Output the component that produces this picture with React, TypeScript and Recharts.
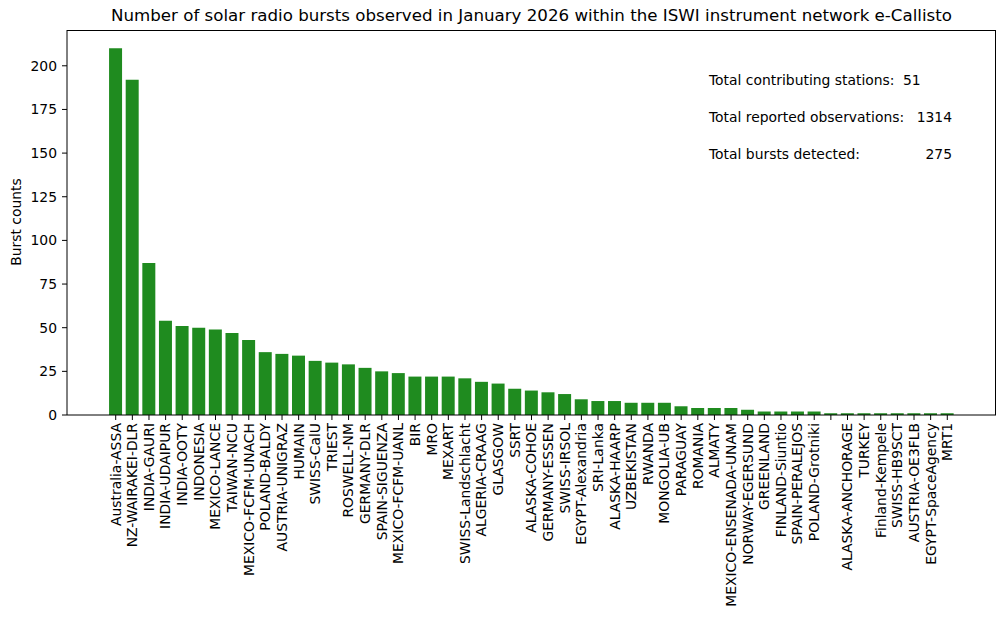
import React from "react"
import { BarChart, Bar, XAxis, YAxis } from "recharts"

// stations sorted by burst count (January 2026)
const stations = [
  "Australia-ASSA", "NZ-WAIRAKEI-DLR", "INDIA-GAURI", "INDIA-UDAIPUR", "INDIA-OOTY", "INDONESIA",
  "MEXICO-LANCE", "TAIWAN-NCU", "MEXICO-FCFM-UNACH", "POLAND-BALDY", "AUSTRIA-UNIGRAZ", "HUMAIN",
  "SWISS-CalU", "TRIEST", "ROSWELL-NM", "GERMANY-DLR", "SPAIN-SIGUENZA", "MEXICO-FCFM-UANL",
  "BIR", "MRO", "MEXART", "SWISS-Landschlacht", "ALGERIA-CRAAG", "GLASGOW", "SSRT",
  "ALASKA-COHOE", "GERMANY-ESSEN", "SWISS-IRSOL", "EGYPT-Alexandria", "SRI-Lanka", "ALASKA-HAARP",
  "UZBEKISTAN", "RWANDA", "MONGOLIA-UB", "PARAGUAY", "ROMANIA", "ALMATY", "MEXICO-ENSENADA-UNAM",
  "NORWAY-EGERSUND", "GREENLAND", "FINLAND-Siuntio", "SPAIN-PERALEJOS", "POLAND-Grotniki", "",
  "ALASKA-ANCHORAGE", "TURKEY", "Finland-Kempele", "SWISS-HB9SCT", "AUSTRIA-OE3FLB",
  "EGYPT-SpaceAgency", "MRT1",
]

const bursts = [
  210, 192, 87, 54, 51, 50,
  49, 47, 43, 36, 35, 34,
  31, 30, 29, 27, 25, 24,
  22, 22, 22, 21, 19, 18, 15,
  14, 13, 12, 9, 8, 8,
  7, 7, 7, 5, 4, 4, 4,
  3, 2, 2, 2, 2, 1,
  1, 1, 1, 1, 1,
  1, 1,
]

const yTicks = [0, 25, 50, 75, 100, 125, 150, 175, 200]

const totalStations = 51
const totalObservations = 1314
const totalDetected = 275

const FONT = "'DejaVu Sans', sans-serif"
const FS = 13.9

function StationTick(props: any) {
  const { x, y, payload } = props
  return (
    <g transform={`translate(${x},${y})`}>
      <text transform="rotate(-90)" textAnchor="end" dy="0.35em" fontSize={FS} fill="#000" fontFamily={FONT}>
        {payload.value}
      </text>
    </g>
  )
}

export default function App() {
  const data = stations.map((name, i) => ({ name, count: bursts[i] }))

  const textStyle: React.CSSProperties = { position: "absolute", fontSize: FS, lineHeight: "14px", whiteSpace: "pre" }

  return (
    <div style={{ position: "absolute", left: 0, top: 0, width: 1005, height: 618, background: "#fff", fontFamily: FONT, color: "#000" }}>
      <BarChart width={1005} height={618} data={data} margin={{ top: 30, right: 9, bottom: 0, left: 0 }} barCategoryGap="10%">
        <XAxis
          dataKey="name"
          interval={0}
          height={203}
          padding={{ left: 40.4, right: 40.4 }}
          tickSize={5}
          tickMargin={3}
          axisLine={{ stroke: "#000" }}
          tickLine={{ stroke: "#000" }}
          tick={<StationTick />}
        />
        <YAxis
          width={67}
          domain={[0, 220.5]}
          ticks={yTicks}
          tickSize={5}
          tickMargin={5}
          axisLine={{ stroke: "#000" }}
          tickLine={{ stroke: "#000" }}
          tick={{ fill: "#000", fontSize: FS, fontFamily: FONT }}
        />
        <Bar dataKey="count" fill="#1f8b1f" isAnimationActive={false} />
      </BarChart>

      {/* axes frame */}
      <div style={{ position: "absolute", left: 67, top: 30, width: 929, height: 385, borderTop: "1px solid #000", borderRight: "1px solid #000", boxSizing: "border-box", pointerEvents: "none" }} />

      <div style={{ position: "absolute", left: 67, width: 929, top: 7, textAlign: "center", fontSize: 16.67, lineHeight: "18px", whiteSpace: "nowrap" }}>
        Number of solar radio bursts observed in January 2026 within the ISWI instrument network e-Callisto
      </div>

      <div style={{ position: "absolute", left: 16, top: 222, transform: "translate(-50%, -50%) rotate(-90deg)", fontSize: FS, whiteSpace: "nowrap" }}>
        Burst counts
      </div>

      <div style={{ ...textStyle, left: 709, top: 73 }}>Total contributing stations:</div>
      <div style={{ ...textStyle, left: 903, top: 73 }}>{totalStations}</div>
      <div style={{ ...textStyle, left: 709, top: 110 }}>Total reported observations:</div>
      <div style={{ ...textStyle, right: 53, top: 110 }}>{totalObservations}</div>
      <div style={{ ...textStyle, left: 709, top: 147 }}>Total bursts detected:</div>
      <div style={{ ...textStyle, right: 53, top: 147 }}>{totalDetected}</div>
    </div>
  )
}
